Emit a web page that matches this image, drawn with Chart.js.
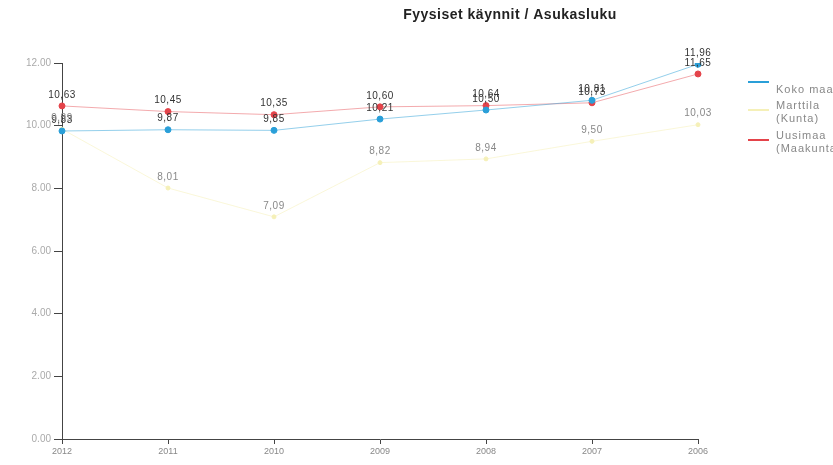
<!DOCTYPE html>
<html>
<head>
<meta charset="utf-8">
<script src="https://cdn.jsdelivr.net/npm/chart.js@4.4.1/dist/chart.umd.min.js"></script>
<style>
html, body { margin: 0; padding: 0; background: #fff; }
#wrap { width: 833px; height: 465px; }
</style>
</head>
<body>
<div id="wrap"><canvas id="visitsChart" width="833" height="465"></canvas></div>
<script>
const years = ['2012', '2011', '2010', '2009', '2008', '2007', '2006'];
const seriesNames = ['Koko maa', 'Marttila (Kunta)', 'Uusimaa (Maakunta)'];
const kokoMaa = [9.83, 9.87, 9.85, 10.21, 10.50, 10.81, 11.96];
const marttila = [9.89, 8.01, 7.09, 8.82, 8.94, 9.50, 10.03];
const uusimaa = [10.63, 10.45, 10.35, 10.60, 10.64, 10.73, 11.65];
const yTicks = [0, 2, 4, 6, 8, 10, 12];

const titleText = 'Fyysiset käynnit / Asukasluku';
const font = '"Liberation Sans", Arial, sans-serif';

/* value labels above points */
const valueLabels = {
  id: 'valueLabels',
  afterDatasetsDraw(chart) {
    const ctx = chart.ctx;
    ctx.save();
    ctx.font = '10px ' + font;
    ctx.letterSpacing = '0.5px';
    ctx.textAlign = 'center';
    ctx.textBaseline = 'bottom';
    chart.data.datasets.forEach(function (ds, i) {
      const meta = chart.getDatasetMeta(i);
      ctx.fillStyle = ds.labelColor;
      meta.data.forEach(function (pt, j) {
        ctx.fillText(ds.data[j].toFixed(2).replace('.', ','), pt.x, pt.y - 6);
      });
    });
    ctx.restore();
  }
};

/* title and side legend */
const sideParts = {
  id: 'sideParts',
  afterDraw(chart) {
    const ctx = chart.ctx;
    ctx.save();
    ctx.font = 'bold 14px ' + font;
    ctx.letterSpacing = '0.5px';
    ctx.fillStyle = '#222';
    ctx.textAlign = 'center';
    ctx.textBaseline = 'middle';
    ctx.fillText(titleText, 510, 15);

    const rowsY = [82, 110, 140];
    ctx.font = '11px ' + font;
    ctx.letterSpacing = '1px';
    ctx.textAlign = 'left';
    chart.data.datasets.forEach(function (ds, i) {
      const y = rowsY[i];
      ctx.strokeStyle = ds.pointBackgroundColor;
      ctx.lineWidth = 2;
      ctx.beginPath();
      ctx.moveTo(748, y);
      ctx.lineTo(769, y);
      ctx.stroke();
      ctx.fillStyle = '#888';
      const words = seriesNames[i].split(' (');
      if (words.length > 1) {
        ctx.fillText(words[0], 776, y - 4);
        ctx.fillText('(' + words[1], 776, y + 9);
      } else {
        ctx.fillText(words[0], 776, y + 8);
      }
    });
    ctx.restore();
  }
};

const ctx = document.getElementById('visitsChart');

new Chart(ctx, {
  type: 'line',
  data: {
    labels: years,
    datasets: [{
      label: seriesNames[0],
      data: kokoMaa,
      borderColor: 'rgba(42, 159, 216, 0.5)',
      pointBackgroundColor: '#2a9fd8',
      pointBorderColor: '#2a9fd8',
      labelColor: '#333',
      borderWidth: 1,
      pointRadius: 3,
      tension: 0
    }, {
      label: seriesNames[1],
      data: marttila,
      borderColor: 'rgba(244, 238, 170, 0.45)',
      pointBackgroundColor: '#f5f0b8',
      pointBorderColor: '#f5f0b8',
      labelColor: '#888',
      borderWidth: 1,
      pointRadius: 2,
      tension: 0
    }, {
      label: seriesNames[2],
      data: uusimaa,
      borderColor: 'rgba(228, 67, 74, 0.45)',
      pointBackgroundColor: '#e4434a',
      pointBorderColor: '#e4434a',
      labelColor: '#333',
      borderWidth: 1,
      pointRadius: 3,
      tension: 0
    }]
  },
  options: {
    responsive: false,
    animation: false,
    layout: {
      padding: { top: 63, right: 135, bottom: 0, left: 0 }
    },
    plugins: {
      legend: { display: false },
      title: { display: false },
      tooltip: { enabled: false }
    },
    scales: {
      x: {
        offset: false,
        grid: { drawOnChartArea: false, drawTicks: true, tickLength: 5, color: '#444' },
        border: { display: true, color: '#444', width: 1 },
        ticks: { color: '#888', font: { size: 9, family: font }, padding: 2, maxRotation: 0 },
        afterFit(scale) { scale.height = 26; }
      },
      y: {
        min: 0,
        max: 12,
        afterBuildTicks(scale) {
          scale.ticks = yTicks.map(function (v) { return { value: v }; });
        },
        grid: { drawOnChartArea: false, drawTicks: true, tickLength: 8, color: '#444' },
        border: { display: true, color: '#444', width: 1 },
        ticks: {
          color: '#aaa',
          font: { size: 10, family: font },
          padding: 3,
          callback: function (v) { return Number(v).toFixed(2); }
        },
        afterFit(scale) { scale.width = 62; }
      }
    }
  },
  plugins: [valueLabels, sideParts]
});
</script>
</body>
</html>
